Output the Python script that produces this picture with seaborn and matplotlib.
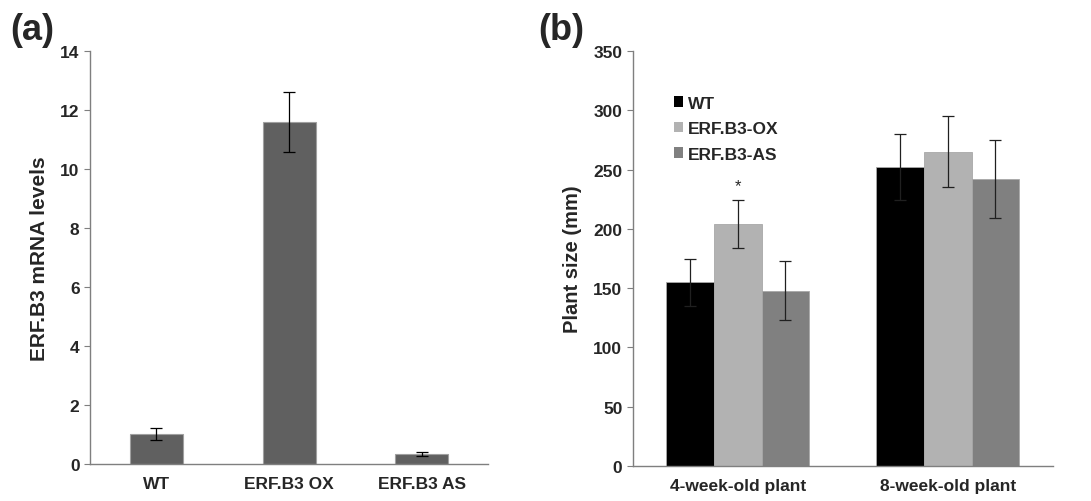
import numpy as np
import pandas as pd
import seaborn as sns
import matplotlib.pyplot as plt

# panel (a): transcript levels
lines_a = ['WT', 'ERF.B3 OX', 'ERF.B3 AS']
mrna = [1.0, 11.6, 0.33]
mrna_err = [0.2, 1.02, 0.07]

# panel (b): plant size
ages = ['4-week-old plant', '8-week-old plant']
lines_b = ['WT', 'ERF.B3-OX', 'ERF.B3-AS']
size_wt = [155, 252]
size_ox = [204, 265]
size_as = [148, 242]
err_wt = [20, 28]
err_ox = [20, 30]
err_as = [24.5, 33]

sns.set_style('white')
plt.rcParams['font.family'] = ['Liberation Sans', 'DejaVu Sans']
plt.rcParams['font.weight'] = 'bold'

fig = plt.figure(figsize=(10.91, 5.02), dpi=100)
ax1 = fig.add_axes([0.0825, 0.074, 0.365, 0.822])
ax2 = fig.add_axes([0.580, 0.070, 0.385, 0.826])

spine_col = '#7f7f7f'
tick_fs = 12.5

# ---- (a)
df_a = pd.DataFrame({'line': lines_a, 'mrna': mrna})
sns.barplot(data=df_a, x='line', y='mrna', color='#606060', width=0.4,
            saturation=1, edgecolor='#a0a0a0', linewidth=0.8, errorbar=None, ax=ax1)
ax1.errorbar(np.arange(len(lines_a)), mrna, yerr=mrna_err, fmt='none',
             ecolor='black', elinewidth=0.9, capsize=4, capthick=0.9)
ax1.set_ylim(0, 14)
ax1.set_yticks(range(0, 15, 2))
ax1.set_xlim(-0.5, 2.5)
ax1.set_xlabel('')
ax1.set_ylabel('ERF.B3 mRNA levels', fontsize=15, fontweight='bold', labelpad=8)
ax1.text(-0.2, 1.01, '(a)', transform=ax1.transAxes, fontsize=26, fontweight='bold',
         ha='left', va='bottom')

# ---- (b)
df_b = pd.DataFrame({
    'age': ages * 3,
    'line': [l for l in lines_b for _ in ages],
    'size': size_wt + size_ox + size_as,
})
sns.barplot(data=df_b, x='age', y='size', hue='line', hue_order=lines_b,
            palette=['#000000', '#b2b2b2', '#808080'], width=0.68, saturation=1,
            edgecolor='#a8a8a8', linewidth=0.6, errorbar=None, ax=ax2)
for i, (cont, vals, errs) in enumerate(zip(ax2.containers, [size_wt, size_ox, size_as],
                                           [err_wt, err_ox, err_as])):
    xs = [p.get_x() + p.get_width() / 2 for p in cont.patches]
    ax2.errorbar(xs, vals, yerr=errs, fmt='none', ecolor='#202020',
                 elinewidth=0.9, capsize=4, capthick=0.9)
    if i == 1:
        ax2.text(xs[0], vals[0] + errs[0] + 6, '*', ha='center', va='bottom',
                 fontsize=12, fontweight='normal')
ax2.set_ylim(0, 350)
ax2.set_yticks(range(0, 351, 50))
ax2.set_xlim(-0.5, 1.5)
ax2.set_xlabel('')
ax2.set_ylabel('Plant size (mm)', fontsize=14.5, fontweight='bold', labelpad=8)
ax2.text(-0.225, 1.01, '(b)', transform=ax2.transAxes, fontsize=26, fontweight='bold',
         ha='left', va='bottom')
leg = ax2.legend(loc='upper left', bbox_to_anchor=(0.06, 0.93), frameon=False,
                 handlelength=0.55, handleheight=0.55, handletextpad=0.3,
                 labelspacing=0.6, prop={'weight': 'bold', 'size': tick_fs})
for h in leg.legend_handles:
    h.set_edgecolor('none')

for ax in (ax1, ax2):
    sns.despine(ax=ax)
    for s in ('left', 'bottom'):
        ax.spines[s].set_color(spine_col)
        ax.spines[s].set_linewidth(1.0)
    n = len(ax.get_xticks())
    ax.set_xticks(np.arange(-0.5, n, 1.0), minor=True)
    ax.tick_params(axis='x', which='major', length=0, pad=9, labelsize=tick_fs)
    ax.tick_params(axis='x', which='minor', length=5, color=spine_col, direction='out')
    ax.tick_params(axis='y', length=4, color=spine_col, direction='out', left=True,
                   labelsize=tick_fs)
    for lab in ax.get_xticklabels() + ax.get_yticklabels():
        lab.set_fontweight('bold')

fig.savefig('out.png', dpi=100)
